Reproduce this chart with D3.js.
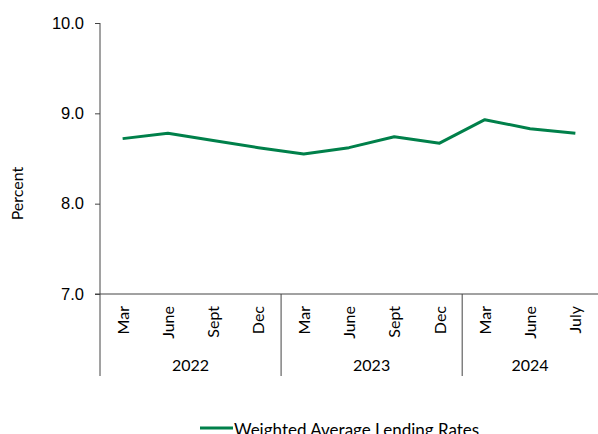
<!DOCTYPE html>
<html>
<head>
<meta charset="utf-8">
<script src="https://cdn.jsdelivr.net/npm/d3@7"></script>
<style>
  body { margin: 0; background: #fff; }
  svg { font-family: Lato, "Open Sans", sans-serif; }
</style>
</head>
<body>
<script>
var months = ['Mar', 'June', 'Sept', 'Dec', 'Mar', 'June', 'Sept', 'Dec', 'Mar', 'June', 'July'];
var years = ['2022', '2022', '2022', '2022', '2023', '2023', '2023', '2023', '2024', '2024', '2024'];
var rates = [8.72, 8.78, 8.70, 8.62, 8.55, 8.62, 8.74, 8.67, 8.93, 8.83, 8.78];
var yTicks = [7, 8, 9, 10];

var w = 598, h = 434;
var margin = { top: 23, left: 100, right: 0, bottom: 140 };
var width = w - margin.left - margin.right;
var height = 294 - margin.top;

var keys = months.map(function(m, i) { return i; });

var x = d3.scaleBand().domain(keys).range([0, width]);
var y = d3.scaleLinear().domain([7, 10]).range([height, 0]);

var svg = d3.select('body').append('svg')
    .attr('width', w)
    .attr('height', h);

var chart = svg.append('g')
    .attr('transform', 'translate(' + margin.left + ',' + margin.top + ')');

// y axis
var yAxis = d3.axisLeft(y).tickValues(yTicks).tickFormat(d3.format('.1f')).tickSize(5).tickPadding(11);
var yg = chart.append('g').call(yAxis);
yg.select('.domain').remove();
yg.selectAll('line').attr('stroke', '#444');
yg.selectAll('text').attr('font-size', 16.5).attr('fill', '#000');
chart.append('line')
    .attr('x1', 0).attr('x2', 0)
    .attr('y1', 0).attr('y2', 353)
    .attr('stroke', '#444');

svg.append('text')
    .attr('transform', 'translate(23,' + (margin.top + height / 2 + 35) + ') rotate(-90)')
    .attr('text-anchor', 'middle')
    .attr('font-size', 16)
    .text('Percent');

// x axis
chart.append('line')
    .attr('x1', -5).attr('x2', width)
    .attr('y1', height).attr('y2', height)
    .attr('stroke', '#444');

chart.selectAll('.mlab')
    .data(keys)
    .enter().append('text')
    .attr('class', 'mlab')
    .attr('transform', function(d) {
        return 'translate(' + (x(d) + x.bandwidth() / 2 + 6) + ',' + (height + 12) + ') rotate(-90)';
    })
    .attr('text-anchor', 'end')
    .attr('font-size', 16)
    .text(function(d) { return months[d]; });

// year groups
var groups = d3.groups(keys, function(d) { return years[d]; });
groups.forEach(function(g, gi) {
    var first = g[1][0], last = g[1][g[1].length - 1];
    var x0 = x(first), x1 = x(last) + x.bandwidth();
    if (gi > 0) {
        chart.append('line')
            .attr('x1', x0).attr('x2', x0)
            .attr('y1', height).attr('y2', 353)
            .attr('stroke', '#444');
    }
    chart.append('text')
        .attr('x', (x0 + x1) / 2)
        .attr('y', 348)
        .attr('text-anchor', 'middle')
        .attr('font-size', 16)
        .text(g[0]);
});

// line
var line = d3.line()
    .x(function(d, i) { return x(i) + x.bandwidth() / 2; })
    .y(function(d) { return y(d); });

chart.append('path')
    .datum(rates)
    .attr('fill', 'none')
    .attr('stroke', '#00804A')
    .attr('stroke-width', 3)
    .attr('stroke-linejoin', 'round')
    .attr('d', line);

// legend
var lg = svg.append('g').attr('transform', 'translate(200,428)');
lg.append('line').attr('x1', 0).attr('x2', 33).attr('y1', 0).attr('y2', 0)
    .attr('stroke', '#00804A').attr('stroke-width', 3);
lg.append('text').attr('x', 34).attr('y', 8).attr('font-size', 17).text('Weighted Average Lending Rates');
</script>
</body>
</html>
